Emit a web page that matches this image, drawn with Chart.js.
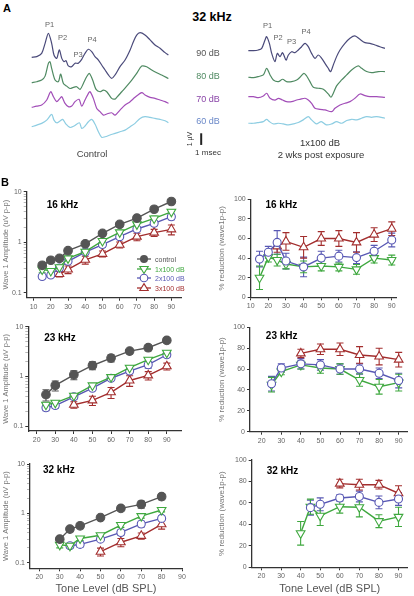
<!DOCTYPE html>
<html><head><meta charset="utf-8">
<script src="https://cdn.jsdelivr.net/npm/chart.js@4.4.0/dist/chart.umd.min.js"></script>
<style>
html,body{margin:0;padding:0;background:#fff;}
#root{position:relative;width:414px;height:596px;overflow:hidden;font-family:"Liberation Sans",Arial,Helvetica,sans-serif;}
canvas{position:absolute;}
.t{position:absolute;white-space:nowrap;transform:translate(-50%,-50%);line-height:1;}
.lg{position:absolute;white-space:nowrap;transform:translateY(-50%);line-height:1;font-size:7px;}
svg{position:absolute;}
</style></head><body><div id="root">
<canvas id="waveL"></canvas><canvas id="waveR"></canvas>
<canvas id="a16"></canvas><canvas id="a23"></canvas><canvas id="a32"></canvas>
<canvas id="r16"></canvas><canvas id="r23"></canvas><canvas id="r32"></canvas>

<div class="t" style="left:7px;top:8px;font-weight:bold;font-size:11px;">A</div>
<div class="t" style="left:212px;top:17px;font-weight:bold;font-size:12.5px;">32 kHz</div>
<div class="t" style="left:49.5px;top:25px;font-size:7.5px;color:#666;">P1</div>
<div class="t" style="left:62.5px;top:38px;font-size:7.5px;color:#666;">P2</div>
<div class="t" style="left:78px;top:55px;font-size:7.5px;color:#666;">P3</div>
<div class="t" style="left:92px;top:40px;font-size:7.5px;color:#666;">P4</div>
<div class="t" style="left:267.7px;top:26px;font-size:7.5px;color:#666;">P1</div>
<div class="t" style="left:278px;top:38px;font-size:7.5px;color:#666;">P2</div>
<div class="t" style="left:291.7px;top:42.3px;font-size:7.5px;color:#666;">P3</div>
<div class="t" style="left:306px;top:31.7px;font-size:7.5px;color:#666;">P4</div>
<div class="t" style="left:208px;top:53px;font-size:9px;color:#555;">90 dB</div>
<div class="t" style="left:208px;top:76px;font-size:9px;color:#4f8a62;">80 dB</div>
<div class="t" style="left:208px;top:98.7px;font-size:9px;color:#8a45a8;">70 dB</div>
<div class="t" style="left:208px;top:120.7px;font-size:9px;color:#6a88c8;">60 dB</div>
<div class="t" style="left:188.5px;top:139px;font-size:7px;color:#333;transform:translate(-50%,-50%) rotate(-90deg);">1 µV</div>
<div class="t" style="left:208px;top:153px;font-size:8px;color:#333;">1 msec</div>
<div class="t" style="left:92px;top:154px;font-size:9.5px;color:#444;">Control</div>
<div class="t" style="left:320px;top:143px;font-size:9.5px;color:#333;">1x100 dB</div>
<div class="t" style="left:321px;top:155px;font-size:9.5px;color:#333;">2 wks post exposure</div>

<div class="t" style="left:5px;top:181.7px;font-weight:bold;font-size:11px;">B</div>
<div class="t" style="left:62.5px;top:205px;font-weight:bold;font-size:10px;">16 kHz</div>
<div class="t" style="left:60px;top:337.7px;font-weight:bold;font-size:10px;">23 kHz</div>
<div class="t" style="left:58.8px;top:470px;font-weight:bold;font-size:10px;">32 kHz</div>
<div class="t" style="left:281.3px;top:205px;font-weight:bold;font-size:10px;">16 kHz</div>
<div class="t" style="left:281.7px;top:335.7px;font-weight:bold;font-size:10px;">23 kHz</div>
<div class="t" style="left:282.5px;top:471px;font-weight:bold;font-size:10px;">32 kHz</div>

<svg style="left:137px;top:254.3px" width="14" height="10"><line x1="0" y1="5" x2="14" y2="5" stroke="#555" stroke-width="1.3"/><circle cx="7" cy="5" r="4" fill="#555"/></svg>
<div class="lg" style="left:155px;top:259.3px;color:#555;">control</div>
<svg style="left:137px;top:264px" width="14" height="10"><line x1="0" y1="5" x2="14" y2="5" stroke="#3fa83f" stroke-width="1.3"/><polygon points="2.8,2.5 11.2,2.5 7,9.5" fill="#fff" stroke="#3fa83f" stroke-width="1.1"/></svg>
<div class="lg" style="left:155px;top:269px;color:#3fa83f;">1x100 dB</div>
<svg style="left:137px;top:273.3px" width="14" height="10"><line x1="0" y1="5" x2="14" y2="5" stroke="#5858b4" stroke-width="1.3"/><circle cx="7" cy="5" r="3.8" fill="#fff" stroke="#5858b4" stroke-width="1.1"/></svg>
<div class="lg" style="left:155px;top:278.3px;color:#5858b4;">2x100 dB</div>
<svg style="left:137px;top:282.7px" width="14" height="10"><line x1="0" y1="5" x2="14" y2="5" stroke="#a32e2e" stroke-width="1.3"/><polygon points="7,0.6 11.2,7.5 2.8,7.5" fill="#fff" stroke="#a32e2e" stroke-width="1.1"/></svg>
<div class="lg" style="left:155px;top:287.7px;color:#a32e2e;">3x100 dB</div>
</div>
<script>
// ================= DATA =================
// Panel A: ABR waveforms at 32 kHz, [time (ms), amplitude (uV) relative to trace start]
const waveLevels = ['90 dB', '80 dB', '70 dB', '60 dB'];
const controlWave90 = [[0,0],[0.37,0.06],[0.73,0.34],[0.98,1.2],[1.22,2.06],[1.46,1.2],[1.63,0.2],[1.83,-0.09],[2.02,0.63],[2.2,-0.09],[2.37,-0.37],[2.51,-0.29],[2.68,-0.74],[2.93,-0.8],[3.17,-0.51],[3.41,-0.51],[3.66,-0.17],[3.9,0.34],[4.15,0.69],[4.39,0.49],[4.63,0.06],[4.88,-0.23],[5.12,-0.66],[5.37,-1.09],[5.61,-1.51],[5.85,-1.8],[6.1,-1.51],[6.46,-0.8],[6.83,-0.23],[7.2,0.63],[7.44,1.34],[7.68,1.91],[7.93,2.11],[8.29,1.91],[8.66,1.49],[9.02,1.06],[9.39,0.77],[9.76,0.4],[10.0,0.2]];
const controlWave80 = [[0,0],[0.37,0.09],[0.73,0.23],[0.98,0.57],[1.22,1.66],[1.34,1.8],[1.46,1.23],[1.71,0.23],[1.95,0.09],[2.12,0.74],[2.32,-0.06],[2.56,-0.29],[2.8,-0.49],[3.05,-0.4],[3.29,-0.34],[3.54,-0.57],[3.78,-0.06],[4.02,0.51],[4.22,0.8],[4.46,0.23],[4.71,-0.57],[5.0,-0.77],[5.24,-0.63],[5.49,-0.77],[5.85,-1.34],[6.1,-1.4],[6.22,-1.26],[6.59,-0.77],[6.95,-0.29],[7.32,0.23],[7.68,0.8],[8.05,1.43],[8.41,1.37],[8.78,1.09],[9.15,0.86],[9.51,0.66],[10.0,0.37]];
const controlWave70 = [[0,0],[0.37,0.11],[0.73,0.2],[1.1,0.63],[1.39,1.34],[1.59,0.91],[1.83,0.49],[2.07,0.77],[2.2,0.91],[2.44,0.34],[2.68,0.06],[2.93,0.11],[3.17,0.49],[3.46,0.69],[3.66,0.11],[3.9,0.63],[4.15,1.2],[4.27,1.34],[4.51,0.77],[4.76,-0.09],[5.0,-0.37],[5.24,-0.66],[5.49,-0.57],[5.85,-0.46],[6.1,-0.66],[6.46,-0.23],[6.83,0.2],[7.2,0.49],[7.56,0.86],[8.05,1.26],[8.29,1.06],[8.66,0.86],[9.02,0.77],[9.39,0.63],[9.76,0.49],[10.0,0.34]];
const controlWave60 = [[0,0],[0.37,0.14],[0.73,0.29],[1.1,0.57],[1.46,1.06],[1.63,0.57],[1.83,0.34],[2.07,0.49],[2.27,0.63],[2.51,0.23],[2.8,-0.06],[3.1,0.06],[3.49,0.34],[3.66,-0.14],[3.9,0.06],[4.15,0.43],[4.39,0.63],[4.63,0.23],[4.88,-0.43],[5.12,-0.91],[5.37,-0.86],[5.73,-0.71],[6.1,-0.57],[6.46,-0.43],[6.83,-0.29],[7.2,0],[7.56,0.29],[7.93,0.71],[8.29,0.86],[8.66,0.8],[9.02,0.71],[9.39,0.63],[9.76,0.51],[10.0,0.34]];
const exposedWave90 = [[0,0],[0.37,0],[0.73,0.06],[0.98,0.2],[1.22,0.91],[1.34,1.2],[1.54,0.63],[1.71,-0.23],[1.95,-0.94],[2.12,-0.23],[2.32,-0.51],[2.51,-0.17],[2.76,-0.8],[2.93,-0.37],[3.17,-0.09],[3.41,-0.17],[3.66,0.06],[3.9,0.34],[4.15,0.63],[4.39,0.34],[4.63,-0.23],[4.88,-0.66],[5.12,-0.37],[5.37,-0.66],[5.61,-1.09],[5.85,-1.51],[6.02,-1.8],[6.22,-1.23],[6.46,-0.51],[6.71,0.06],[7.07,0.63],[7.44,1.06],[7.8,1.26],[8.17,0.97],[8.54,0.69],[8.9,0.63],[9.27,0.49],[9.63,0.34],[10.0,0.2]];
const exposedWave80 = [[0,0],[0.37,-0.03],[0.73,0.06],[1.1,0.2],[1.34,0.77],[1.59,0.2],[1.83,-0.23],[2.2,-0.37],[2.51,-0.17],[2.8,-0.37],[3.17,-0.37],[3.54,-0.23],[3.78,0],[4.07,0.34],[4.27,0.11],[4.51,-0.37],[4.76,-0.86],[5.12,-0.94],[5.49,-1.03],[5.85,-1.43],[6.05,-1.71],[6.22,-1.37],[6.46,-0.74],[6.83,-0.23],[7.2,0.2],[7.56,0.63],[8.05,0.97],[8.29,0.77],[8.66,0.49],[9.02,0.4],[9.51,0.49],[10.0,0.49]];
const exposedWave70 = [[0,0],[0.37,0],[0.73,-0.09],[1.1,0.06],[1.34,0.29],[1.59,-0.14],[1.95,-0.29],[2.2,-0.14],[2.51,-0.29],[2.8,-0.43],[3.17,-0.43],[3.54,-0.29],[3.78,-0.23],[4.15,-0.14],[4.39,-0.29],[4.63,-0.57],[4.88,-1.0],[5.24,-1.09],[5.61,-1.14],[6.1,-1.29],[6.34,-1.0],[6.71,-0.71],[7.07,-0.57],[7.44,-0.43],[7.8,-0.14],[8.17,0.23],[8.54,0.09],[8.9,0],[9.39,0],[10.0,-0.06]];
const exposedWave60 = [[0,0],[0.37,0],[0.73,0.06],[1.1,0.14],[1.34,0.34],[1.54,0.14],[1.83,-0.06],[2.2,0],[2.56,-0.06],[2.93,-0.14],[3.29,-0.06],[3.66,0.06],[4.02,0.29],[4.39,0.57],[4.63,0.29],[4.98,-0.06],[5.34,0.14],[5.71,-0.14],[6.1,-0.06],[6.46,0.14],[6.83,0],[7.2,0.23],[7.56,0.34],[7.93,0.29],[8.29,0.43],[8.66,0.57],[9.02,0.51],[9.39,0.57],[10.0,0.43]];
const scaleBarUV = 1;

// Panel B: wave 1 amplitude (uV p-p), log scale
const amp16Levels = [15,20,25,30,40,50,60,70,80,90];
const amp16Control = [0.35,0.44,0.48,0.68,0.93,1.5,2.26,3.0,4.5,6.4];
const amp16ControlErr = [0.03,0.03,0.03,0.05,0.08,0.12,0.18,0.25,0.35,0.5];
const amp16X1 = [0.29,0.27,0.32,0.48,0.65,1.06,1.57,2.26,2.96,4.0];
const amp16X1Err = [0.04,0.03,0.03,0.05,0.06,0.1,0.15,0.25,0.35,0.45];
const amp16X2 = [0.21,0.225,0.31,0.42,0.64,0.9,1.29,1.83,2.37,3.2];
const amp16X2Err = [0.02,0.02,0.03,0.04,0.06,0.1,0.13,0.2,0.25,0.4];
const amp16X3 = [null,null,0.235,0.29,0.45,0.59,0.89,1.29,1.55,1.8];
const amp16X3Err = [null,null,0.03,0.05,0.08,0.08,0.12,0.22,0.25,0.4];

const amp23Levels = [25,30,40,50,60,70,80,90];
const amp23Control = [0.43,0.66,1.08,1.66,2.34,3.23,3.78,5.3];
const amp23ControlErr = [0.11,0.15,0.22,0.3,0.38,0.3,0.5,0.5];
const amp23X1 = [0.27,0.295,0.41,0.66,0.97,1.5,2.17,3.0];
const amp23X1Err = [0.03,0.03,0.04,0.06,0.08,0.15,0.2,0.25];
const amp23X2 = [0.235,0.26,0.39,0.58,0.92,1.28,1.72,2.73];
const amp23X2Err = [0.03,0.03,0.04,0.06,0.08,0.15,0.25,0.3];
const amp23X3 = [null,null,0.27,0.33,0.48,0.83,1.05,1.6];
const amp23X3Err = [null,null,0.04,0.07,0.12,0.2,0.2,0.25];

const amp32Levels = [30,35,40,50,60,70,80];
const amp32Control = [0.30,0.48,0.56,0.82,1.26,1.52,2.18];
const amp32ControlErr = [0.04,0.05,0.05,0.08,0.08,0.25,0.3];
const amp32X1 = [0.23,0.22,0.31,0.36,0.58,0.88,1.17];
const amp32X1Err = [0.03,0.02,0.03,0.03,0.06,0.08,0.1];
const amp32X2 = [null,0.22,0.235,0.30,0.41,0.61,0.79];
const amp32X2Err = [null,0.02,0.03,0.03,0.05,0.08,0.1];
const amp32X3 = [null,null,null,0.167,0.26,0.35,0.6];
const amp32X3Err = [null,null,null,0.03,0.05,0.05,0.12];

// Panel B: % reduction (wave1 p-p)
const red16Levels = [15,20,25,30,40,50,60,70,80,90];
const red16X1 = [20,41,38,34,31,32,31,28.5,40,38];
const red16X1Err = [12,5,6,5,6,5,4,5,5,5];
const red16X2 = [39,46,56,37,31,40,42,40.5,47,58.5];
const red16X2Err = [8,6,12,8,10,7,6,6,6,7];
const red16X3 = [null,null,52,57,51,60,60,56,64,70];
const red16X3Err = [null,null,6,9,11,7,8,10,7,7];

const red23Levels = [25,30,40,50,60,70,80,90];
const red23X1 = [45,57.5,64,61,60,49.5,43,47];
const red23X1Err = [7,3,4,5,5,6,7,8];
const red23X2 = [46,61,65,64,60,60,56,49];
const red23X2Err = [7,4,5,5,5,5,5,7];
const red23X3 = [null,null,75,79,79,73.5,72,69];
const red23X3Err = [null,null,4,5,6,8,8,7];

const red32Levels = [40,45,50,60,70,80,90];
const red32X1 = [31.7,56.5,48,56.5,56,43,47];
const red32X1Err = [11,7,9,6,9,6,9];
const red32X2 = [null,55.6,58.7,64.6,66,60.5,63.7];
const red32X2Err = [null,7,6,3,5,6,6];
const red32X3 = [null,null,null,78,77,77,69];
const red32X3Err = [null,null,null,4,5,4,7];

const seriesNames = ['control','1x100 dB','2x100 dB','3x100 dB'];
const xTicks16 = [10,20,30,40,50,60,70,80,90];
const xTicks2332 = [20,30,40,50,60,70,80,90];
const logMajorTicks = [0.1,1,10];
const pctTicks = [0,20,40,60,80,100];

// ================= STYLE / LAYOUT =================
const FONT = '"Liberation Sans", Arial, Helvetica, sans-serif';
Chart.defaults.font.family = FONT;
const COL = {control:'#555555', x1:'#3fa83f', x2:'#5858b4', x3:'#a32e2e'};
const waveColors = ['#4a4a7a','#4f8a62','#a24eb8','#8dcde2'];

function pts(levels, vals, errs){
  const out = [];
  levels.forEach((x,i)=>{ if(vals[i]!=null) out.push({x:x, y:vals[i], e: errs ? errs[i] : null}); });
  return out;
}

const errorBarPlugin = {
  id:'errbars',
  beforeDatasetsDraw(chart){
    const ctx = chart.ctx, ys = chart.scales.y, xs = chart.scales.x;
    chart.data.datasets.forEach((ds,i)=>{
      if(!ds.withErrors) return;
      ctx.save();
      ctx.strokeStyle = ds.borderColor; ctx.lineWidth = 1.1;
      ds.data.forEach(p=>{
        if(p.e==null) return;
        const x = xs.getPixelForValue(p.x);
        const lo = Math.max(p.y - p.e, 1e-3);
        const y1 = ys.getPixelForValue(p.y + p.e), y2 = ys.getPixelForValue(lo);
        ctx.beginPath();
        ctx.moveTo(x,y1); ctx.lineTo(x,y2);
        ctx.moveTo(x-3.5,y1); ctx.lineTo(x+3.5,y1);
        ctx.moveTo(x-3.5,y2); ctx.lineTo(x+3.5,y2);
        ctx.stroke();
      });
      ctx.restore();
    });
  }
};

function ds(label, data, color, style){
  const base = {label, data, borderColor:color, borderWidth:1.4, withErrors:true,
    pointBorderColor:color, pointBorderWidth:1.1, tension:0, showLine:true};
  if(style==='filled') return Object.assign(base,{pointStyle:'circle', pointRadius:4.3, pointBackgroundColor:color});
  if(style==='down') return Object.assign(base,{pointStyle:'triangle', pointRotation:180, pointRadius:5, pointBackgroundColor:'#fff'});
  if(style==='up') return Object.assign(base,{pointStyle:'triangle', pointRadius:5, pointBackgroundColor:'#fff'});
  return Object.assign(base,{pointStyle:'circle', pointRadius:4, pointBackgroundColor:'#fff'});
}

function dataChart(id, box, area, o){
  const cv = document.getElementById(id);
  cv.width = box.w; cv.height = box.h;
  cv.style.left = box.x+'px'; cv.style.top = box.y+'px';
  const yW = area.l - box.x, pt = area.t - box.y, pr = box.x + box.w - area.r, xH = box.y + box.h - area.b;
  const isMajor = v => !o.log || logMajorTicks.some(m => Math.abs(m - v) < 1e-9);
  let yTickVals = o.yTicks;
  if(o.log){
    yTickVals = [];
    [0.1,1].forEach(d=>{ for(let k=1;k<10;k++) yTickVals.push(+(d*k).toFixed(3)); });
    yTickVals.push(10);
  }
  return new Chart(cv, {
    type:'scatter',
    data:{datasets:o.datasets},
    options:{
      responsive:false, animation:false, events:[],
      layout:{padding:{left:0, top:pt, right:pr, bottom:0}},
      plugins:{legend:{display:false}, tooltip:{enabled:false}},
      scales:{
        x:{type:'linear', min:o.xMin, max:o.xMax,
          afterFit(s){ s.height = xH; },
          afterBuildTicks(s){ s.ticks = o.xTicks.map(v=>({value:v})); },
          ticks:{font:{size:7}, color:'#666', padding:2, maxRotation:0, autoSkip:false, callback:v=>String(v)},
          grid:{display:true, drawOnChartArea:false, drawTicks:true, tickLength:3, tickColor:'#333', tickWidth:1},
          border:{display:true, color:'#333', width:1.3},
          title: o.xTitle ? {display:true, text:o.xTitle, font:{size:11}, color:'#555', padding:{top:0,bottom:0}} : {display:false}
        },
        y:{type:o.log?'logarithmic':'linear', min:o.yMin, max:o.yMax,
          afterFit(s){ s.width = yW; },
          afterBuildTicks(s){ s.ticks = yTickVals.map(v=>({value:v})); },
          ticks:{font:{size:7}, color:'#666', padding:2, autoSkip:false,
            callback:v=> isMajor(v) ? String(v) : ''},
          grid:{display:true, drawOnChartArea:false, drawTicks:true, tickLength:3,
            tickColor:c => (c.tick && isMajor(c.tick.value)) ? '#333' : '#888',
            tickWidth:c => (c.tick && isMajor(c.tick.value)) ? 1 : 0.6},
          border:{display:true, color:'#333', width:1.3},
          title:{display:true, text:o.yTitle, font:{size:o.yTitleSize}, color:'#777', padding:{top:o.yTitlePad,bottom:0}}
        }
      }
    },
    plugins:[errorBarPlugin]
  });
}

// amplitude charts
const ampTitle = 'Wave 1 Amplitude (uV p-p)';
dataChart('a16', {x:0,y:180,w:196,h:130}, {l:26.7,t:191.7,r:181.7,b:297.7}, {
  log:true, yMin:0.08, yMax:10, xMin:6, xMax:96, xTicks:xTicks16, yTitle:ampTitle, yTitleSize:7.5, yTitlePad:1,
  datasets:[
    ds(seriesNames[0], pts(amp16Levels, amp16Control, amp16ControlErr), COL.control, 'filled'),
    ds(seriesNames[1], pts(amp16Levels, amp16X1, amp16X1Err), COL.x1, 'down'),
    ds(seriesNames[2], pts(amp16Levels, amp16X2, amp16X2Err), COL.x2, 'open'),
    ds(seriesNames[3], pts(amp16Levels, amp16X3, amp16X3Err), COL.x3, 'up')
  ]});
dataChart('a23', {x:0,y:315,w:196,h:129}, {l:28.3,t:326.7,r:181.7,b:431}, {
  log:true, yMin:0.08, yMax:10, xMin:15.5, xMax:98, xTicks:xTicks2332, yTitle:ampTitle, yTitleSize:7.5, yTitlePad:1,
  datasets:[
    ds(seriesNames[0], pts(amp23Levels, amp23Control, amp23ControlErr), COL.control, 'filled'),
    ds(seriesNames[1], pts(amp23Levels, amp23X1, amp23X1Err), COL.x1, 'down'),
    ds(seriesNames[2], pts(amp23Levels, amp23X2, amp23X2Err), COL.x2, 'open'),
    ds(seriesNames[3], pts(amp23Levels, amp23X3, amp23X3Err), COL.x3, 'up')
  ]});
dataChart('a32', {x:0,y:452,w:196,h:144}, {l:30,t:464,r:182,b:568.3}, {
  log:true, yMin:0.077, yMax:10, xMin:15.4, xMax:90, xTicks:xTicks2332, yTitle:ampTitle, yTitleSize:7.5, yTitlePad:1,
  xTitle:'Tone Level (dB SPL)',
  datasets:[
    ds(seriesNames[0], pts(amp32Levels, amp32Control, amp32ControlErr), COL.control, 'filled'),
    ds(seriesNames[1], pts(amp32Levels, amp32X1, amp32X1Err), COL.x1, 'down'),
    ds(seriesNames[2], pts(amp32Levels, amp32X2, amp32X2Err), COL.x2, 'open'),
    ds(seriesNames[3], pts(amp32Levels, amp32X3, amp32X3Err), COL.x3, 'up')
  ]});

// % reduction charts
const redTitle = '% reduction (wave1p-p)';
dataChart('r16', {x:210,y:185,w:204,h:125}, {l:250.7,t:199.3,r:396.7,b:297.3}, {
  log:false, yMin:0, yMax:100, yTicks:pctTicks, xMin:10, xMax:92.8, xTicks:xTicks16, yTitle:redTitle, yTitleSize:8, yTitlePad:6.7,
  datasets:[
    ds(seriesNames[2], pts(red16Levels, red16X2, red16X2Err), COL.x2, 'open'),
    ds(seriesNames[1], pts(red16Levels, red16X1, red16X1Err), COL.x1, 'down'),
    ds(seriesNames[3], pts(red16Levels, red16X3, red16X3Err), COL.x3, 'up')
  ]});
dataChart('r23', {x:210,y:315,w:204,h:129}, {l:250,t:327.3,r:408.3,b:431.7}, {
  log:false, yMin:0, yMax:100, yTicks:pctTicks, xMin:14, xMax:94.7, xTicks:xTicks2332, yTitle:redTitle, yTitleSize:8, yTitlePad:6.7,
  datasets:[
    ds(seriesNames[2], pts(red23Levels, red23X2, red23X2Err), COL.x2, 'open'),
    ds(seriesNames[1], pts(red23Levels, red23X1, red23X1Err), COL.x1, 'down'),
    ds(seriesNames[3], pts(red23Levels, red23X3, red23X3Err), COL.x3, 'up')
  ]});
dataChart('r32', {x:210,y:452,w:204,h:144}, {l:251.7,t:460,r:411.7,b:567.3}, {
  log:false, yMin:0, yMax:100, yTicks:pctTicks, xMin:15, xMax:94.8, xTicks:xTicks2332, yTitle:redTitle, yTitleSize:8, yTitlePad:6.7,
  xTitle:'Tone Level (dB SPL)',
  datasets:[
    ds(seriesNames[2], pts(red32Levels, red32X2, red32X2Err), COL.x2, 'open'),
    ds(seriesNames[1], pts(red32Levels, red32X1, red32X1Err), COL.x1, 'down'),
    ds(seriesNames[3], pts(red32Levels, red32X3, red32X3Err), COL.x3, 'up')
  ]});

// ===== Panel A wave charts =====
function waveChart(id, box, xr, yr, traces, offsets, extra){
  const cv = document.getElementById(id);
  cv.width = box.w; cv.height = box.h;
  cv.style.left = box.x+'px'; cv.style.top = box.y+'px';
  const datasets = traces.map((tr,i)=>({
    label: waveLevels[i],
    data: tr.map(p=>({x:p[0], y:p[1]+offsets[i]})),
    borderColor: waveColors[i], borderWidth:1.2, pointRadius:0, showLine:true, tension:0.3, fill:false
  }));
  if(extra) datasets.push(extra);
  return new Chart(cv, {
    type:'scatter',
    data:{datasets},
    options:{
      responsive:false, animation:false, events:[],
      layout:{padding:0},
      plugins:{legend:{display:false}, tooltip:{enabled:false}},
      scales:{
        x:{type:'linear', display:false, min:xr[0], max:xr[1]},
        y:{type:'linear', display:false, min:yr[0], max:yr[1]}
      }
    }
  });
}
const barT = 12.4, barBottom = -7.51;
waveChart('waveL', {x:25,y:25,w:190,h:135}, [-0.49,13.41], [-8.8,2.77],
  [controlWave90, controlWave80, controlWave70, controlWave60], [0,-2.18,-4.29,-5.95],
  {label:'1 µV', data:[{x:barT,y:barBottom},{x:barT,y:barBottom+scaleBarUV}], borderColor:'#222', borderWidth:2, pointRadius:0, showLine:true});
waveChart('waveR', {x:240,y:25,w:150,h:135}, [-0.61,10.37], [-9.37,2.2],
  [exposedWave90, exposedWave80, exposedWave70, exposedWave60], [0,-2.28,-3.94,-6.22]);
</script>
</body></html>
